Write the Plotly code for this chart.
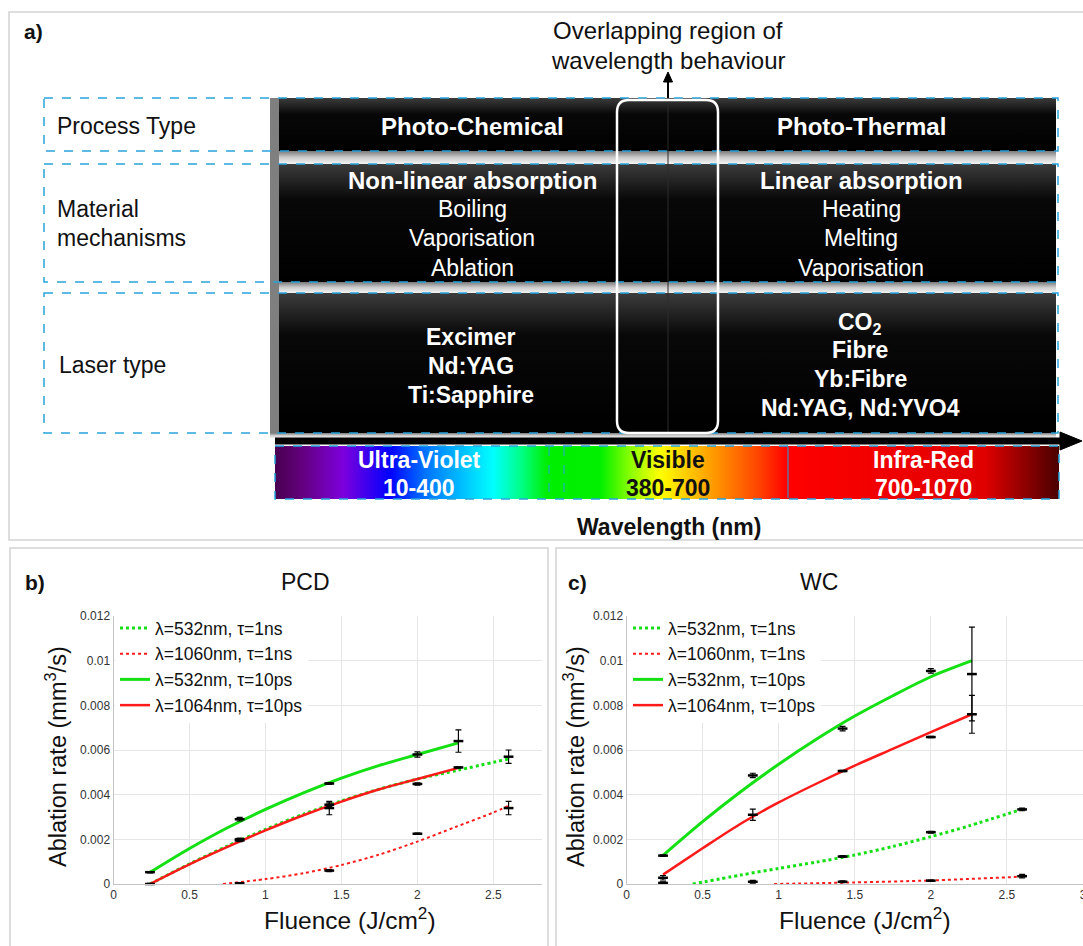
import plotly.graph_objects as go

W, H = 1083, 946
FONT = "Liberation Sans, Arial, Helvetica, sans-serif"

# ---------------- panel a : text content ----------------
row_labels = [["Process Type"], ["Material", "mechanisms"], ["Laser type"]]
process_types = ["Photo-Chemical", "Photo-Thermal"]
mech_left = ["Non-linear absorption", "Boiling", "Vaporisation", "Ablation"]
mech_right = ["Linear absorption", "Heating", "Melting", "Vaporisation"]
laser_left = ["Excimer", "Nd:YAG", "Ti:Sapphire"]
laser_right = ["CO<sub>2</sub>", "Fibre", "Yb:Fibre", "Nd:YAG, Nd:YVO4"]
bands = ["Ultra-Violet", "Visible", "Infra-Red"]
band_ranges = ["10-400", "380-700", "700-1070"]
overlap_note = ["Overlapping region of", "wavelength behaviour"]
axis_label_a = "Wavelength (nm)"
spectrum_stops = [0.0, 0.032, 0.087, 0.147, 0.19, 0.278, 0.316, 0.347, 0.415,
                  0.455, 0.491, 0.555, 0.619, 0.653, 0.905, 1.0]
spectrum_colors = ["#480050", "#62007a", "#7d00dc", "#0000ff", "#0070ff", "#00ffff",
                   "#00ff80", "#00ee00", "#00f000", "#90ff00", "#ffff00", "#ffa000",
                   "#ff4000", "#ff0000", "#e00000", "#4a0000"]

# ---------------- panels b / c : data ----------------
legend_names = ["λ=532nm, τ=1ns", "λ=1060nm, τ=1ns", "λ=532nm, τ=10ps", "λ=1064nm, τ=10ps"]
panel_titles = ["PCD", "WC"]
panel_letters = ["b)", "c)"]
x_title = "Fluence (J/cm<sup>2</sup>)"
y_title = "Ablation rate (mm<sup>3</sup>/s)"

# PCD fitted curves
pcd_g1ns_fit_x = [0.24, 0.5, 0.75, 1.0, 1.25, 1.5, 1.75, 2.0, 2.27, 2.6]
pcd_g1ns_fit_y = [0.0, 0.0009, 0.0017, 0.00245, 0.00313, 0.00372, 0.00425, 0.0047, 0.0051, 0.0056]
pcd_r1ns_fit_x = [0.72, 1.0, 1.25, 1.5, 1.75, 2.0, 2.25, 2.5, 2.6]
pcd_r1ns_fit_y = [0.0, 0.00022, 0.00048, 0.00085, 0.00132, 0.0019, 0.00255, 0.0032, 0.0035]
pcd_g10ps_fit_x = [0.24, 0.5, 0.75, 1.0, 1.25, 1.5, 1.75, 2.0, 2.27]
pcd_g10ps_fit_y = [0.00052, 0.00159, 0.00252, 0.00334, 0.00408, 0.00474, 0.00531, 0.0058, 0.00632]
pcd_r10ps_fit_x = [0.24, 0.5, 0.75, 1.0, 1.25, 1.5, 1.75, 2.0, 2.27]
pcd_r10ps_fit_y = [0.0, 0.00088, 0.00166, 0.0024, 0.00308, 0.00369, 0.00424, 0.0047, 0.0052]
# PCD measured points
pcd_g1ns_x = [0.83, 1.42, 2.0, 2.6]
pcd_g1ns_y = [0.00195, 0.0034, 0.00448, 0.0057]
pcd_g1ns_e = [0.00005, 0.0003, 0.00005, 0.0003]
pcd_r1ns_x = [0.83, 1.42, 2.0, 2.6]
pcd_r1ns_y = [0.00003, 0.0006, 0.00225, 0.0034]
pcd_r1ns_e = [0.00003, 0.00005, 0.00003, 0.0003]
pcd_g10ps_x = [0.24, 0.83, 1.42, 2.0, 2.27]
pcd_g10ps_y = [0.00053, 0.0029, 0.0045, 0.0058, 0.0064]
pcd_g10ps_e = [0.00003, 0.00008, 0.00004, 0.00012, 0.0005]
pcd_r10ps_x = [0.24, 0.83, 1.42, 2.27]
pcd_r10ps_y = [0.0, 0.002, 0.00355, 0.00522]
pcd_r10ps_e = [0.00003, 0.00006, 0.00008, 0.00003]

# WC fitted curves
wc_g1ns_fit_x = [0.435, 0.75, 1.0, 1.25, 1.5, 1.75, 2.0, 2.25, 2.6]
wc_g1ns_fit_y = [0.0, 0.0004, 0.0007, 0.00098, 0.0013, 0.00168, 0.00212, 0.0026, 0.00335]
wc_r1ns_fit_x = [0.97, 1.5, 2.0, 2.6]
wc_r1ns_fit_y = [0.0, 0.00007, 0.00016, 0.00033]
wc_g10ps_fit_x = [0.24, 0.5, 0.75, 1.0, 1.25, 1.5, 1.75, 2.0, 2.27]
wc_g10ps_fit_y = [0.00128, 0.00279, 0.00413, 0.00536, 0.00649, 0.00752, 0.00843, 0.00928, 0.0100]
wc_r10ps_fit_x = [0.24, 0.5, 0.75, 1.0, 1.25, 1.5, 1.75, 2.0, 2.27]
wc_r10ps_fit_y = [0.00042, 0.0016, 0.0027, 0.00365, 0.0045, 0.0053, 0.00605, 0.0068, 0.0076]
# WC measured points
wc_g1ns_x = [0.83, 1.42, 2.0, 2.6]
wc_g1ns_y = [0.0001, 0.00123, 0.00232, 0.00334]
wc_g1ns_e = [0.00006, 0.00004, 0.00004, 0.00006]
wc_r1ns_x = [0.24, 1.42, 2.0, 2.6]
wc_r1ns_y = [0.00005, 0.0001, 0.00015, 0.00035]
wc_r1ns_e = [0.00005, 0.00004, 0.00003, 0.00008]
wc_g10ps_x = [0.24, 0.83, 1.42, 2.0, 2.27]
wc_g10ps_y = [0.00127, 0.00486, 0.00696, 0.00954, 0.0094]
wc_g10ps_e = [0.00003, 0.0001, 0.0001, 0.0001, 0.0021]
wc_r10ps_x = [0.24, 0.83, 1.42, 2.0, 2.27]
wc_r10ps_y = [0.00028, 0.0031, 0.00506, 0.00658, 0.0076]
wc_r10ps_e = [0.0001, 0.00025, 0.00003, 0.00003, 0.00085]

y_ticks = [0, 0.002, 0.004, 0.006, 0.008, 0.01, 0.012]
y_ticktext = ["0", "0.002", "0.004", "0.006", "0.008", "0.01", "0.012"]

GREEN = "#14e014"
RED = "#ff1a1a"
BLUE = "#27a4dd"

fig = go.Figure()

# ---------------- overlay axis (pixel space) for panel a ----------------
OV = dict(xaxis="x3", yaxis="y3", hoverinfo="skip", showlegend=False, mode="lines")


def rect_xy(x0, y0, x1, y1):
    return [x0, x1, x1, x0, x0], [y0, y0, y1, y1, y0]


rows = [(98, 151), (164, 282), (293, 433)]
for (y0, y1) in rows:
    xs, ys = rect_xy(279, y0, 1056, y1)
    fig.add_trace(go.Scatter(x=xs, y=ys, fill="toself", line=dict(width=0),
                             fillgradient=dict(type="vertical", start=y0, stop=y1,
                                               colorscale=[[0, "#3c3c3c"], [0.3, "#080808"], [1, "#000000"]]),
                             **OV))
for (y0, y1) in [(151, 164), (282, 293), (433, 438)]:
    xs, ys = rect_xy(270, y0, 1056, y1)
    fig.add_trace(go.Scatter(x=xs, y=ys, fill="toself", line=dict(width=0),
                             fillgradient=dict(type="vertical", start=y0, stop=y1,
                                               colorscale=[[0, "#7a7a7a"], [0.5, "#cccccc"], [1, "#f4f4f4"]]),
                             **OV))
xs, ys = rect_xy(275, 446, 1059, 499)
fig.add_trace(go.Scatter(x=xs, y=ys, fill="toself", line=dict(width=0),
                         fillgradient=dict(type="horizontal", start=275, stop=1059,
                                           colorscale=[[s, c] for s, c in zip(spectrum_stops, spectrum_colors)]),
                         **OV))

# ---------------- charts b and c ----------------
styles = [dict(color=GREEN, width=3, dash="dot"), dict(color=RED, width=2, dash="dot"),
          dict(color=GREEN, width=3), dict(color=RED, width=2.5)]

panels = [
    ("x", "y", "legend",
     [(pcd_g1ns_fit_x, pcd_g1ns_fit_y), (pcd_r1ns_fit_x, pcd_r1ns_fit_y),
      (pcd_g10ps_fit_x, pcd_g10ps_fit_y), (pcd_r10ps_fit_x, pcd_r10ps_fit_y)],
     [(pcd_g1ns_x, pcd_g1ns_y, pcd_g1ns_e), (pcd_r1ns_x, pcd_r1ns_y, pcd_r1ns_e),
      (pcd_g10ps_x, pcd_g10ps_y, pcd_g10ps_e), (pcd_r10ps_x, pcd_r10ps_y, pcd_r10ps_e)]),
    ("x2", "y2", "legend2",
     [(wc_g1ns_fit_x, wc_g1ns_fit_y), (wc_r1ns_fit_x, wc_r1ns_fit_y),
      (wc_g10ps_fit_x, wc_g10ps_fit_y), (wc_r10ps_fit_x, wc_r10ps_fit_y)],
     [(wc_g1ns_x, wc_g1ns_y, wc_g1ns_e), (wc_r1ns_x, wc_r1ns_y, wc_r1ns_e),
      (wc_g10ps_x, wc_g10ps_y, wc_g10ps_e), (wc_r10ps_x, wc_r10ps_y, wc_r10ps_e)]),
]

for xa, ya, lg, fits, pts in panels:
    for name, (fx, fy), st in zip(legend_names, fits, styles):
        fig.add_trace(go.Scatter(x=fx, y=fy, mode="lines", name=name, xaxis=xa, yaxis=ya,
                                 line=dict(shape="spline", smoothing=0.8, **st), legend=lg, hoverinfo="skip"))
    for (px_, py_, pe_) in pts:
        fig.add_trace(go.Scatter(x=px_, y=py_, mode="markers", xaxis=xa, yaxis=ya,
                                 marker=dict(symbol="line-ew", size=7, color="black",
                                             line=dict(width=2.5, color="black")),
                                 error_y=dict(type="data", array=pe_, color="black", thickness=1.2, width=3),
                                 showlegend=False, cliponaxis=False, hoverinfo="skip"))


def pxx(v):
    return v / W


def pxy(v):
    return 1 - v / H


common_x = dict(dtick=0.5, tick0=0, showgrid=True, gridcolor="#e6e6e6", zeroline=False,
                showline=True, linecolor="#c4c4c4", linewidth=1, ticks="",
                tickfont=dict(family=FONT, size=12, color="#333"), fixedrange=True)
common_y = dict(tickvals=y_ticks, ticktext=y_ticktext, range=[0, 0.012], showgrid=True,
                gridcolor="#e6e6e6", zeroline=False, showline=True, linecolor="#c4c4c4", linewidth=1,
                ticks="", tickfont=dict(family=FONT, size=12, color="#333"),
                domain=[pxy(884), pxy(616)], fixedrange=True)

legend_common = dict(xanchor="left", yanchor="top", bgcolor="white", borderwidth=0,
                     font=dict(family=FONT, size=17.5, color="#111"), itemwidth=30, tracegroupgap=0)

fig.update_layout(
    width=W, height=H, margin=dict(l=0, r=0, t=0, b=0, pad=0, autoexpand=False),
    paper_bgcolor="white", plot_bgcolor="rgba(0,0,0,0)", hovermode=False,
    xaxis=dict(domain=[pxx(113.5), pxx(542)], range=[0, 2.82], anchor="y", **common_x),
    yaxis=dict(anchor="x", **common_y),
    xaxis2=dict(domain=[pxx(626.5), 1.0], range=[0, 3], anchor="y2", ticklabeloverflow="allow", **common_x),
    yaxis2=dict(anchor="x2", **common_y),
    xaxis3=dict(domain=[0, 1], range=[0, W], anchor="y3", visible=False, fixedrange=True),
    yaxis3=dict(domain=[0, 1], range=[H, 0], anchor="x3", visible=False, fixedrange=True),
    legend=dict(x=pxx(115), y=pxy(610), **legend_common),
    legend2=dict(x=pxx(628), y=pxy(610), **legend_common),
)

# ---------------- shapes ----------------
S = dict(xref="x3", yref="y3")
shapes = []
shapes.append(dict(type="rect", x0=9, y0=12, x1=1095, y1=540, line=dict(color="#d2d2d2", width=1.5), layer="below", **S))
shapes.append(dict(type="rect", x0=10, y0=548, x1=548, y1=960, line=dict(color="#d2d2d2", width=1.5), layer="below", **S))
shapes.append(dict(type="rect", x0=556, y0=548, x1=1095, y1=960, line=dict(color="#d2d2d2", width=1.5), layer="below", **S))
shapes.append(dict(type="rect", x0=270, y0=98, x1=279, y1=433, fillcolor="#7f7f7f", line=dict(width=0), layer="above", **S))
for (y0, y1) in rows:
    shapes.append(dict(type="rect", x0=44, y0=y0, x1=1058, y1=y1,
                       line=dict(color=BLUE, width=1.5, dash="dash"), layer="above", **S))
shapes.append(dict(type="rect", x0=275, y0=446, x1=1059, y1=499,
                   line=dict(color=BLUE, width=1.5, dash="dash"), layer="above", **S))
for xv, dsh in [(549, "dash"), (564, "dash"), (788, "solid")]:
    shapes.append(dict(type="line", x0=xv, y0=447, x1=xv, y1=498,
                       line=dict(color=BLUE, width=1, dash=dsh), layer="above", **S))
shapes.append(dict(type="line", x0=668, y0=101, x1=668, y1=432, line=dict(color="#2c2c2c", width=1), layer="above", **S))
r = 12
x0, x1, y0, y1 = 617, 718, 100, 433
path = (f"M {x0+r},{y0} L {x1-r},{y0} Q {x1},{y0} {x1},{y0+r} L {x1},{y1-r} Q {x1},{y1} {x1-r},{y1} "
        f"L {x0+r},{y1} Q {x0},{y1} {x0},{y1-r} L {x0},{y0+r} Q {x0},{y0} {x0+r},{y0} Z")
shapes.append(dict(type="path", path=path, line=dict(color="white", width=2.5), layer="above", **S))
shapes.append(dict(type="line", x0=275, y0=441, x1=1063, y1=441, line=dict(color="black", width=7), layer="above", **S))
shapes.append(dict(type="path", path="M 1060,432 L 1082,441 L 1060,450 Z", fillcolor="black",
                   line=dict(color="black", width=1), layer="above", **S))
shapes.append(dict(type="line", x0=668, y0=98, x1=668, y1=80, line=dict(color="black", width=2), layer="above", **S))
shapes.append(dict(type="path", path="M 663.5,82 L 668,72 L 672.5,82 Z", fillcolor="black",
                   line=dict(color="black", width=1), layer="above", **S))
fig.update_layout(shapes=shapes)


# ---------------- annotations ----------------
def txt(x, y, s, size, color="#111", bold=False, xanchor="center", angle=0):
    fig.add_annotation(x=x, y=y, xref="x3", yref="y3", text=f"<b>{s}</b>" if bold else s,
                       showarrow=False, xanchor=xanchor, yanchor="middle", textangle=angle,
                       font=dict(family=FONT, size=size, color=color))


txt(22, 31, "a)", 21, bold=True, xanchor="left")
txt(668, 30, overlap_note[0], 24)
txt(668, 60, overlap_note[1], 24)

txt(55, 126, row_labels[0][0], 23, xanchor="left")
txt(55, 209, row_labels[1][0], 23, xanchor="left")
txt(55, 238, row_labels[1][1], 23, xanchor="left")
txt(57, 365, row_labels[2][0], 23, xanchor="left")

txt(472, 126, process_types[0], 24, color="white", bold=True)
txt(861, 126, process_types[1], 24, color="white", bold=True)

mech_y = [180, 209, 238, 268]
for i, (a, b) in enumerate(zip(mech_left, mech_right)):
    txt(472, mech_y[i], a, 24 if i == 0 else 23, color="white", bold=(i == 0))
    txt(861, mech_y[i], b, 24 if i == 0 else 23, color="white", bold=(i == 0))

for yv, s in zip([337, 366, 395], laser_left):
    txt(471, yv, s, 23, color="white", bold=True)
for yv, s in zip([323, 350, 379, 408], laser_right):
    txt(860, yv, s, 23, color="white", bold=True)

band_x = [419, 668, 923]
band_col = ["white", "#111", "white"]
for xv, b, rg, c in zip(band_x, bands, band_ranges, band_col):
    txt(xv, 460, b, 23, color=c, bold=True)
    txt(xv, 488, rg, 23, color=c, bold=True)
txt(669, 527, axis_label_a, 23, bold=True)

# chart panel labels, titles and axis titles
txt(23, 582, panel_letters[0], 21, bold=True, xanchor="left")
txt(305, 582, panel_titles[0], 23)
txt(566, 582, panel_letters[1], 21, bold=True, xanchor="left")
txt(819, 582, panel_titles[1], 23)
txt(350, 918, x_title, 24.5)
txt(865, 918, x_title, 24.5)
txt(56, 757, y_title, 23.5, angle=-90)
txt(574, 757, y_title, 23.5, angle=-90)

fig.write_html("out.html", post_script="document.body.style.margin='0';")
